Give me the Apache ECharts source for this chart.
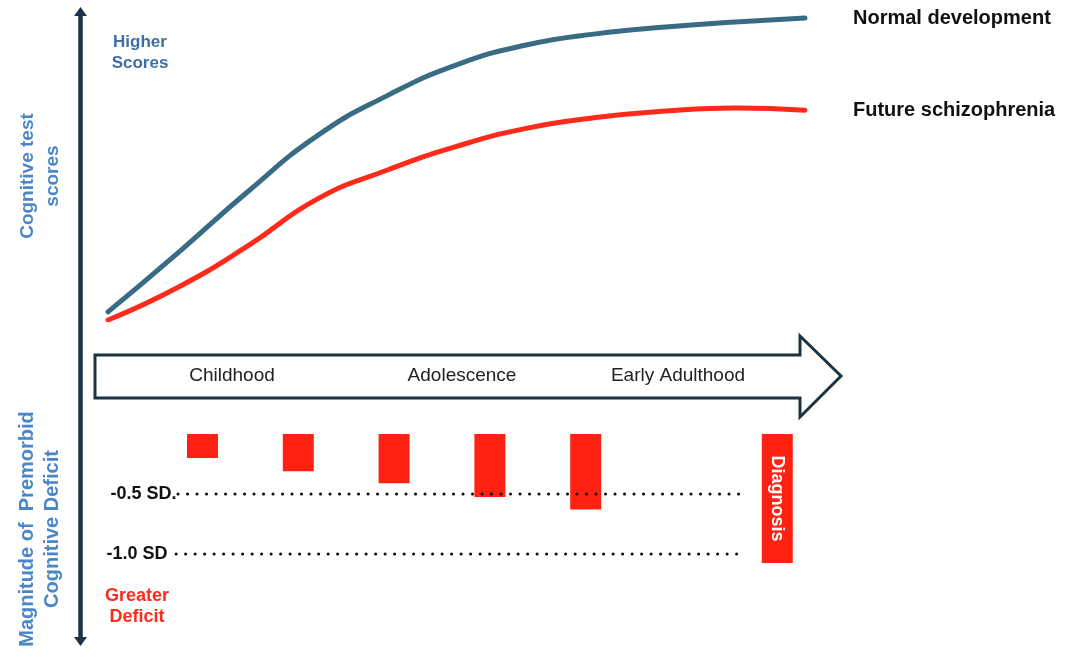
<!DOCTYPE html>
<html>
<head>
<meta charset="utf-8">
<script src="https://cdn.jsdelivr.net/npm/echarts@6/dist/echarts.min.js"></script>
<style>html,body{margin:0;padding:0;background:#fff}#chart{width:1080px;height:657px}</style>
</head>
<body>
<div id="chart"></div>
<script>
// ---- data ----
var stageX = [0, 10, 20, 30, 40, 50, 60, 70, 80, 90, 100];
var normalScores = [2.6, 21.6, 41.3, 59.4, 72.3, 82.3, 88.7, 92.3, 94.5, 96.1, 97.4];
var schizScores = [0, 10.5, 23.8, 39.0, 48.3, 56.0, 61.8, 65.3, 67.4, 68.4, 67.7];
var seriesNames = ['Normal development', 'Future schizophrenia'];

var deficitX = [0.5, 1.5, 2.5, 3.5, 4.5, 6.5];
var deficitSD = [0.2, 0.31, 0.41, 0.525, 0.63, 1.075];
var deficitLabels = ['', '', '', '', '', 'Diagnosis'];

var refLevels = [0.5, 1.0];
var refLabels = ['-0.5 SD.', '-1.0 SD'];
var refStart = [0.244, 0.224];
var refEnd = [6.13, 6.16];

var stageLabels = ['Childhood', 'Adolescence', 'Early Adulthood'];

// ---- chart ----
var chart = echarts.init(document.getElementById('chart'));
var FONT = 'Liberation Sans, Arial, sans-serif';
var BLUE = '#3a6b84', RED = '#ff2a1a', TXTBLUE = '#4a86c8', DARK = '#1b3342';

var series = [
  { name: seriesNames[0], type: 'line', xAxisIndex: 0, yAxisIndex: 0, smooth: 0.5, showSymbol: false,
    data: stageX.map(function (x, i) { return [x, normalScores[i]]; }),
    lineStyle: { color: BLUE, width: 5, cap: 'round' },
    endLabel: { show: true, formatter: '{a}', color: '#111', fontWeight: 'bold', fontSize: 20, fontFamily: FONT, distance: 48 } },
  { name: seriesNames[1], type: 'line', xAxisIndex: 0, yAxisIndex: 0, smooth: 0.5, showSymbol: false,
    data: stageX.map(function (x, i) { return [x, schizScores[i]]; }),
    lineStyle: { color: RED, width: 5, cap: 'round' },
    endLabel: { show: true, formatter: '{a}', color: '#111', fontWeight: 'bold', fontSize: 20, fontFamily: FONT, distance: 48 } },
  { name: 'Deficit', type: 'bar', xAxisIndex: 1, yAxisIndex: 1, barWidth: 31,
    data: deficitX.map(function (x, i) { return [x, deficitSD[i]]; }),
    itemStyle: { color: '#ff2213' },
    label: { show: true, position: 'inside', rotate: -90,
      formatter: function (p) { return deficitLabels[p.dataIndex]; },
      color: '#fff', fontWeight: 'bold', fontSize: 18, fontFamily: FONT } }
];
refLevels.forEach(function (lv, i) {
  series.push({ name: refLabels[i], type: 'line', xAxisIndex: 1, yAxisIndex: 1, showSymbol: false,
    data: [[refStart[i], lv], [refEnd[i], lv]],
    lineStyle: { color: '#111', width: 3, type: [0.1, 9.4], cap: 'round' },
    label: { show: false },
    markPoint: { symbol: 'rect', symbolSize: 1, itemStyle: { color: 'rgba(0,0,0,0)' },
      data: [{ coord: [refStart[i], lv], label: { show: true, formatter: refLabels[i], position: 'left', distance: i === 0 ? 1 : 8,
        color: '#111', fontWeight: 'bold', fontSize: 18, fontFamily: FONT } }] }
  });
});

// big horizontal arrow graphic
var arrowPts = [[95, 355], [800, 355], [800, 336], [841, 376], [800, 417], [800, 398], [95, 398]];

var option = {
  backgroundColor: '#fff',
  animation: false,
  grid: [
    { left: 108, right: 275, top: 10, bottom: 337 },
    { left: 154.6, right: 254.8, top: 434, bottom: 43 }
  ],
  xAxis: [
    { type: 'value', gridIndex: 0, min: 0, max: 100, show: false },
    { type: 'value', gridIndex: 1, min: 0, max: 7, show: false }
  ],
  yAxis: [
    { type: 'value', gridIndex: 0, min: 0, max: 100, show: false },
    { type: 'value', gridIndex: 1, min: 0, max: 1.5, inverse: true, show: false }
  ],
  series: series,
  graphic: [
    { type: 'polygon', shape: { points: arrowPts }, style: { fill: '#fff', stroke: DARK, lineWidth: 3, lineJoin: 'miter' }, z: 1 },
    { type: 'text', x: 232, y: 376, style: { text: stageLabels[0], fill: '#222', font: '19px ' + FONT, align: 'center', verticalAlign: 'middle' }, z: 2 },
    { type: 'text', x: 462, y: 376, style: { text: stageLabels[1], fill: '#222', font: '19px ' + FONT, align: 'center', verticalAlign: 'middle' }, z: 2 },
    { type: 'text', x: 678, y: 376, style: { text: stageLabels[2], fill: '#222', font: '19px ' + FONT, align: 'center', verticalAlign: 'middle' }, z: 2 },
    // vertical double arrow
    { type: 'line', shape: { x1: 80.5, y1: 12, x2: 80.5, y2: 641 }, style: { stroke: DARK, lineWidth: 4.5 }, z: 1 },
    { type: 'polygon', shape: { points: [[80.5, 7], [74, 16], [87, 16]] }, style: { fill: DARK }, z: 1 },
    { type: 'polygon', shape: { points: [[80.5, 646], [74, 637], [87, 637]] }, style: { fill: DARK }, z: 1 },
    // annotations
    { type: 'text', x: 140, y: 53, style: { text: 'Higher\nScores', fill: '#3d6ea6', font: 'bold 17px ' + FONT, align: 'center', verticalAlign: 'middle', lineHeight: 21 } },
    { type: 'text', x: 40, y: 176, rotation: Math.PI / 2, style: { text: 'Cognitive test\nscores', fill: TXTBLUE, font: 'bold 19px ' + FONT, align: 'center', verticalAlign: 'middle', lineHeight: 25 } },
    { type: 'text', x: 40, y: 529, rotation: Math.PI / 2, style: { text: 'Magnitude of  Premorbid\nCognitive Deficit', fill: TXTBLUE, font: 'bold 20px ' + FONT, align: 'center', verticalAlign: 'middle', lineHeight: 25 } },
    { type: 'text', x: 137, y: 607, style: { text: 'Greater\nDeficit', fill: '#ff2a1a', font: 'bold 18px ' + FONT, align: 'center', verticalAlign: 'middle', lineHeight: 21 } }
  ]
};
chart.setOption(option);
</script>
</body>
</html>
